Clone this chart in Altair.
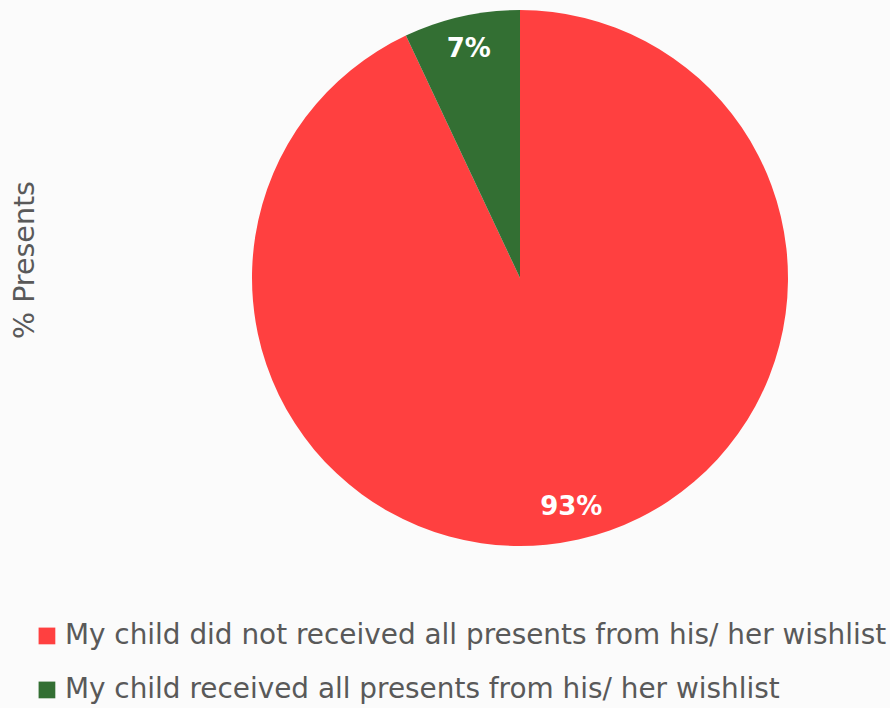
import altair as alt
import pandas as pd

categories = [
    "My child did not received all presents from his/ her wishlist",
    "My child received all presents from his/ her wishlist",
]
values = [93, 7]
labels = ["93%", "7%"]
colors = ["#FF4040", "#336F33"]

df = pd.DataFrame({"category": categories, "value": values, "label": labels,
                   "order": [0, 1]})

color_scale = alt.Scale(domain=categories, range=colors)

base = alt.Chart(df).encode(
    theta=alt.Theta("value:Q", stack=True),
    order=alt.Order("order:Q"),
)

pie = base.mark_arc(outerRadius=268).encode(
    x=alt.value(520),
    y=alt.value(278),
    color=alt.Color(
        "category:N",
        scale=color_scale,
        sort=categories,
        legend=alt.Legend(
            title=None,
            orient="none",
            legendX=33,
            legendY=622,
            direction="vertical",
            symbolType="square",
            symbolSize=280,
            symbolStrokeWidth=0,
            labelFontSize=27.9,
            labelFont="DejaVu Sans",
            labelColor="#595959",
            labelLimit=900,
            rowPadding=25,
            symbolOffset=0,
            labelOffset=4,
        ),
    ),
)

text = base.mark_text(radius=235, fontSize=26, fontWeight="bold",
                      font="DejaVu Sans", color="white").encode(
    x=alt.value(520),
    y=alt.value(278),
    text="label:N",
)

axis_title = alt.Chart(pd.DataFrame({"t": ["% Presents"]})).mark_text(
    angle=270, fontSize=28.5, font="DejaVu Sans", color="#595959"
).encode(x=alt.value(25), y=alt.value(260), text="t:N")

chart = alt.layer(pie, text, axis_title).properties(
    width=890, height=708, padding=0, autosize=alt.AutoSizeParams(type="none"),
    background="#fbfbfb",
).configure_view(stroke=None)

chart.save("out.html", embed_options={"renderer": "svg", "actions": False})
